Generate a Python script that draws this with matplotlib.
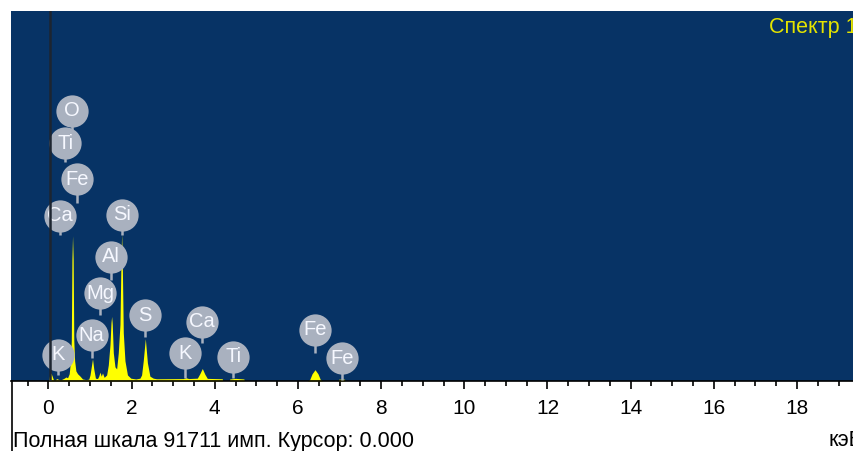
import matplotlib.pyplot as plt
from matplotlib.lines import Line2D
from matplotlib.ticker import MultipleLocator

plt.rcParams['font.family'] = ['Liberation Sans', 'DejaVu Sans']

# spectrum outline (keV, counts)
energy = [0.00, 0.03, 0.06, 0.09, 0.12, 0.16, 0.20, 0.24, 0.30, 0.38, 0.42, 0.46,
          0.50, 0.53, 0.55, 0.565, 0.58, 0.595, 0.61, 0.63, 0.66, 0.70, 0.76,
          0.82, 0.90, 0.97, 1.00, 1.03, 1.06, 1.09, 1.13, 1.18, 1.21, 1.24, 1.27,
          1.30, 1.34, 1.40, 1.44, 1.48, 1.505, 1.52, 1.535, 1.56, 1.60, 1.64,
          1.68, 1.72, 1.745, 1.76, 1.775, 1.80, 1.84, 1.90, 1.98, 2.10, 2.20,
          2.24, 2.28, 2.33, 2.38, 2.44, 2.52, 2.60,
          3.25, 3.31, 3.37, 3.58, 3.64, 3.70, 3.76, 3.82, 4.18, 4.19, 4.35, 4.36,
          4.50, 4.70, 4.71, 6.22, 6.28, 6.34, 6.41, 6.48, 6.54, 6.60, 6.97, 6.98,
          7.12, 7.13, 19.5]
counts = [0, 1500, 2000, 1200, 300, 250, 600, 400, 300, 700, 1000, 800,
          1800, 5000, 10000, 30000, 36000, 30000, 10000, 5000, 2500, 1800, 1200,
          500, 350, 450, 1500, 3500, 5500, 3000, 700, 600, 1200, 2200, 1200,
          2000, 900, 1500, 4000, 9000, 14500, 16000, 14000, 7000, 3500, 3000,
          7000, 14000, 30000, 36500, 30000, 12000, 5000, 1500, 700, 500, 700,
          1500, 5000, 10500, 4500, 1200, 700, 550,
          600, 800, 600, 700, 1800, 3100, 1700, 650, 550, 0, 0, 500,
          650, 500, 0, 0, 300, 1800, 2800, 1800, 300, 0, 0, 450,
          450, 0, 0]

full_scale = 91711
cursor = 0.04

# element labels: position (keV), circle centre and stem end (counts)
el_names = ['O', 'Ti', 'Fe', 'Ca', 'Si', 'Al', 'Mg', 'Na', 'K', 'S',
            'K', 'Ca', 'Ti', 'Fe', 'Fe']
el_x = [0.56, 0.41, 0.68, 0.28, 1.76, 1.51, 1.24, 1.04, 0.24, 2.32,
        3.29, 3.69, 4.45, 6.41, 7.05]
el_y = [67000, 58900, 50000, 40900, 41150, 30800, 21700, 11400, 6450, 16350,
        6850, 14700, 6000, 12650, 5650]
el_stem = [61800, 54400, 44100, 36200, 36200, 25000, 16350, 5700, 1500, 11000,
           750, 9350, 750, 6850, 250]

W, H = 854, 451
fig = plt.figure(figsize=(W / 100, H / 100), dpi=100)
ax = fig.add_axes([11 / W, 1 - 381 / H, 1 - 11 / W, 370 / H])
ax.set_facecolor('#073365')

ax.fill_between(energy, counts, color='#ffff00', lw=0, zorder=2)

lab_col = '#a9b1bf'
ax.vlines(el_x, el_stem, el_y, color=lab_col, lw=1.8, zorder=3)
ax.scatter(el_x, el_y, s=540, color=lab_col, linewidths=0, zorder=4)
for name, x, y in zip(el_names, el_x, el_y):
    ax.text(x, y, name, ha='center', va='center', color='#f6f8ff',
            fontsize=14.5, zorder=5)

ax.axvline(cursor, color='#1d2530', lw=1.8, zorder=6)

ax.set_xlim(-0.9, 19.37)
ax.set_ylim(0, full_scale)
ax.xaxis.set_major_locator(MultipleLocator(2))
ax.xaxis.set_minor_locator(MultipleLocator(0.5))
ax.tick_params(axis='x', which='major', length=6, width=1.2, labelsize=15, pad=7)
ax.tick_params(axis='x', which='minor', length=3.5, width=1.2)
ax.tick_params(axis='y', left=False, labelleft=False)
for s in ['top', 'right', 'left']:
    ax.spines[s].set_visible(False)
ax.spines['bottom'].set_linewidth(1.2)

fig.add_artist(Line2D([12 / W, 12 / W], [0, 1 - 381 / H], color='black',
                      lw=1.2, transform=fig.transFigure))

fig.text(769 / W, 1 - 27 / H, 'Спектр 1', color='#e4e400', fontsize=15.5,
         va='center')
fig.text(13 / W, 1 - 447 / H,
         f'Полная шкала {full_scale} имп. Курсор: {cursor - 0.04:.3f}',
         fontsize=15.5, va='baseline')
fig.text(829 / W, 1 - 446 / H, 'кэВ', fontsize=15.5, va='baseline')

fig.savefig('out.png', dpi=100)
